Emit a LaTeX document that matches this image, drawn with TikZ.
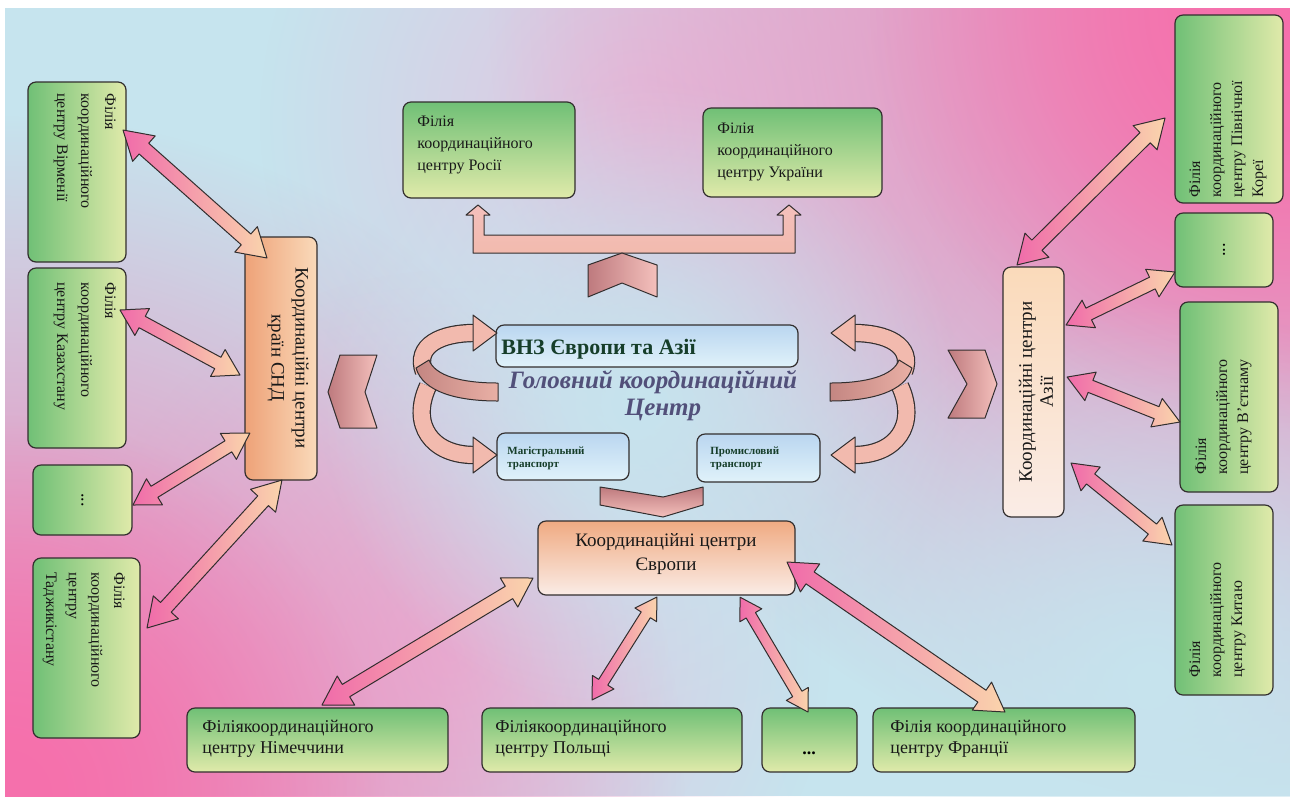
\documentclass[tikz,border=0pt]{standalone}
\usepackage{fontspec}
\setmainfont{Liberation Serif}
\usetikzlibrary{fadings}

\definecolor{bgblue}{RGB}{198,228,238}
\definecolor{bgpink}{RGB}{246,112,172}
\definecolor{bglav}{RGB}{226,196,224}
\definecolor{gdark}{RGB}{112,192,118}
\definecolor{glight}{RGB}{224,234,170}
\definecolor{hubA}{RGB}{238,162,120}
\definecolor{hubB}{RGB}{250,218,186}
\definecolor{hubC}{RGB}{250,236,230}
\definecolor{lbA}{RGB}{186,214,240}
\definecolor{lbB}{RGB}{224,242,250}
\definecolor{arrPink}{RGB}{240,108,170}
\definecolor{arrPeach}{RGB}{250,212,172}
\definecolor{chevA}{RGB}{190,122,126}
\definecolor{chevB}{RGB}{244,192,188}
\definecolor{salmon}{RGB}{242,186,174}
\definecolor{salmonD}{RGB}{196,134,130}
\definecolor{edge}{RGB}{50,46,46}
\definecolor{vnzgreen}{RGB}{22,62,42}
\definecolor{headc}{RGB}{82,80,122}

\tikzfading[name=blobfade, inner color=transparent!0, outer color=transparent!100]

\makeatletter
\newcommand\fatarrow[3][1]{%
  \pgfmathanglebetweenpoints{\pgfpointanchor{#2}{center}}{\pgfpointanchor{#3}{center}}%
  \let\fa@ang\pgfmathresult
  \pgfpointdiff{\pgfpointanchor{#2}{center}}{\pgfpointanchor{#3}{center}}%
  \pgfgetlastxy{\fa@dx}{\fa@dy}%
  \pgfmathveclen{\fa@dx}{\fa@dy}%
  \let\fa@len\pgfmathresult
  \pgfmathsetmacro\fa@hl{14*#1}%
  \pgfmathsetmacro\fa@hw{8.5*#1}%
  \pgfmathsetmacro\fa@sw{3.6*#1}%
  \pgfmathsetmacro\fa@e{\fa@len-\fa@hl}%
  \begin{scope}[shift={(#2)}, rotate=\fa@ang]
    \shade[arrowline, left color=arrPink, right color=arrPeach]
      (0pt,0pt) -- (\fa@hl pt,\fa@hw pt) -- (\fa@hl pt,\fa@sw pt) -- (\fa@e pt,\fa@sw pt)
      -- (\fa@e pt,\fa@hw pt) -- (\fa@len pt,0pt) -- (\fa@e pt,-\fa@hw pt) -- (\fa@e pt,-\fa@sw pt)
      -- (\fa@hl pt,-\fa@sw pt) -- (\fa@hl pt,-\fa@hw pt) -- cycle;
  \end{scope}}
\makeatother

\begin{document}
\begin{tikzpicture}[x=0.5pt,y=-0.5pt,
  box/.style={draw=edge, line width=0.6pt, rounded corners=4pt, inner sep=0pt},
  gbox/.style={box, top color=gdark, bottom color=glight},
  gboxv/.style={box, left color=gdark, right color=glight},
  lbox/.style={box, top color=lbA, bottom color=lbB},
  txt/.style={inner sep=0pt, align=left, text=black!90, font=\fontsize{8}{11}\selectfont},
  vtxtL/.style={inner sep=0pt, align=left, text=black!90, rotate=-90, anchor=north west, font=\fontsize{8}{12}\selectfont},
  vtxtR/.style={inner sep=0pt, align=left, text=black!90, rotate=90, anchor=north west, font=\fontsize{8}{10.5}\selectfont},
  btxt/.style={inner sep=0pt, align=left, text=black!90, anchor=north west, font=\fontsize{9}{10.5}\selectfont},
  hubtxt/.style={inner sep=0pt, align=center, text=black!90, font=\fontsize{9.5}{12}\selectfont},
  arrowline/.style={draw=edge, line width=0.5pt, line join=round},
  chev/.style={draw=edge, line width=0.5pt, line join=round, left color=chevA, right color=chevB},
  loopout/.style={draw=edge, line width=9.2pt},
  loopin/.style={line width=8pt}
]
\useasboundingbox (0,0) rectangle (1290,800);
\fill[white] (0,0) rectangle (1290,800);
\begin{scope}
  \clip (5,8) rectangle (1290,796);
  \fill[bgblue] (5,8) rectangle (1290,796);
  \fill[bglav, path fading=blobfade] (640,120) circle (380);
  \fill[bglav, path fading=blobfade] (450,650) circle (380);
  \fill[bgpink, path fading=blobfade] (1290,8) circle (800);
  \fill[bgpink, path fading=blobfade] (1290,8) circle (420);
  \fill[bgpink, path fading=blobfade] (5,796) circle (680);
  \fill[bgpink, path fading=blobfade] (5,796) circle (380);
  \fill[bgblue, path fading=blobfade] (640,400) circle (320);
  \fill[bgblue, path fading=blobfade] (1150,680) circle (380);
\end{scope}

% ---------- left (CIS) column ----------
\node[gboxv, minimum width=49pt, minimum height=90pt] (arm) at (77,172) {};
\node[vtxtL] (armt) at (116,93) {Філія\\координаційного\\центру Вірменії};
\node[gboxv, minimum width=49pt, minimum height=90pt] (kaz) at (77,358) {};
\node[vtxtL] (kazt) at (116,282) {Філія\\координаційного\\центру Казахстану};
\node[gboxv, minimum width=49.5pt, minimum height=35pt] (ldots) at (82.5,500) {};
\node[inner sep=0pt, rotate=-90, font=\fontsize{9}{10}\selectfont] (ldotst) at (ldots) {...};
\node[gboxv, minimum width=53.5pt, minimum height=90pt] (taj) at (86.5,648) {};
\node[vtxtL, font=\fontsize{8}{11.3}\selectfont] (tajt) at (125,572) {Філія\\координаційного\\центру\\Таджикістану};
\node[box, left color=hubA, right color=hubB, minimum width=36pt, minimum height=121.5pt] (cis) at (281,358.5) {};
\node[hubtxt, rotate=-90] (cist) at (288,358) {Координаційні центри\\країн СНД};

% ---------- right (Asia) column ----------
\node[gboxv, minimum width=54pt, minimum height=94pt] (nk) at (1229,109) {};
\node[vtxtR] (nkt) at (1189,198) {Філія\\координаційного\\центру Північної\\Кореї};
\node[gboxv, minimum width=49pt, minimum height=37pt] (rdots) at (1224,250) {};
\node[inner sep=0pt, rotate=90, font=\fontsize{9}{10}\selectfont] (rdotst) at (rdots) {...};
\node[gboxv, minimum width=49pt, minimum height=95pt] (vie) at (1229,397) {};
\node[vtxtR] (viet) at (1195,475) {Філія\\координаційного\\центру В'єтнаму};
\node[gboxv, minimum width=49pt, minimum height=95pt] (chn) at (1224,600) {};
\node[vtxtR] (chnt) at (1189,678) {Філія\\координаційного\\центру Китаю};
\node[box, top color=hubB, bottom color=hubC, minimum width=30.5pt, minimum height=125pt] (asia) at (1033.5,392) {};
\node[hubtxt, rotate=90, font=\fontsize{9.5}{10.5}\selectfont] (asiat) at (1036,392) {Координаційні центри\\Азії};

% ---------- top ----------
\node[gbox, minimum width=86pt, minimum height=48pt] (rus) at (489,150) {};
\node[txt, anchor=north west] (rust) at (417,115) {Філія\\координаційного\\центру Росії};
\node[gbox, minimum width=89.5pt, minimum height=44.5pt] (ukr) at (792.5,152.5) {};
\node[txt, anchor=north west] (ukrt) at (717,122) {Філія\\координаційного\\центру України};

% bar with two small up arrows
\coordinate (barL) at (473,253);
\coordinate (barR) at (795,253);
\shade[arrowline, top color=chevB, bottom color=salmon]
  (barL) -- (473,215) -- (466,215) -- (478,205) -- (490,215) -- (484,215) -- (484,235)
  -- (783,235) -- (783,215) -- (777,215) -- (789,205) -- (801,215) -- (795,215) -- (barR) -- cycle;
% up chevron
\shade[chev] (622,253) -- (657,265) -- (657,297) -- (622,283) -- (588,297) -- (588,265) -- cycle;

% ---------- centre ----------
\node[lbox, minimum width=151pt, minimum height=21pt] (vnz) at (647,346) {};
\node[inner sep=0pt, anchor=base west, text=vnzgreen, font=\fontsize{11}{13}\bfseries\selectfont] (vnzt) at (501,354) {ВНЗ Європи та Азії};
\node[inner sep=0pt, anchor=north, align=center, text=headc, font=\fontsize{12.5}{13.5}\bfseries\itshape\selectfont] (head) at (653,370) {Головний координаційний\\\hspace*{10pt}Центр};
\node[lbox, minimum width=66pt, minimum height=23.5pt] (mag) at (563,456.5) {};
\node[inner sep=0pt, anchor=north west, align=left, text=vnzgreen, font=\fontsize{5.5}{6.5}\bfseries\selectfont] (magt) at (507,446) {Магістральний\\транспорт};
\node[lbox, minimum width=61.5pt, minimum height=24pt] (prom) at (758.5,458) {};
\node[inner sep=0pt, anchor=north west, align=left, text=vnzgreen, font=\fontsize{5.5}{6.5}\bfseries\selectfont] (promt) at (710,447) {Промисловий\\транспорт};

% side chevrons
\shade[chev] (328,392) -- (340,355) -- (377,355) -- (365,392) -- (377,428) -- (340,428) -- cycle;
\shade[chev] (948,350) -- (985,350) -- (997,384) -- (985,418) -- (948,418) -- (967,384) -- cycle;
% down chevron
\shade[chev, top color=chevA, bottom color=chevB] (600,487) -- (663,497) -- (703,487) -- (703,505) -- (663,517) -- (600,505) -- cycle;

% curved (twisted) arrows, left set, and its mirror on the right
\foreach \mir/\sh in {1/0,-1/1328}{
\begin{scope}[shift={(\sh,0)}, xscale=\mir]
  \draw[loopout] (428,386) .. controls (410,425) and (432,455) .. (474,455);
  \draw[loopin, salmon] (428,386) .. controls (410,425) and (432,455) .. (474,455);
  \draw[arrowline, fill=salmon] (473,437) -- (497,455) -- (473,473) -- cycle;
  \draw[loopout] (424,372) .. controls (414,345) and (442,333) .. (474,333);
  \draw[loopin, salmon] (424,372) .. controls (414,345) and (442,333) .. (474,333);
  \draw[arrowline, fill=salmon] (473,315) -- (497,333) -- (473,351) -- cycle;
  \shade[arrowline, left color=salmonD, right color=salmon!80!salmonD]
    (498,383) .. controls (462,383) and (435,376) .. (429,360)
    -- (416,368) .. controls (423,392) and (457,401) .. (498,401) -- cycle;
\end{scope}}

% ---------- Europe ----------
\node[box, top color=hubA!85!hubB, bottom color=hubC, minimum width=128.5pt, minimum height=37pt] (eur) at (666.5,558) {};
\node[hubtxt, anchor=north] (eurt) at (666,533) {Координаційні центри\\Європи};

\node[gbox, minimum width=130.5pt, minimum height=32pt] (ger) at (317.5,740) {};
\node[btxt] (gert) at (202,720) {Філіякоординаційного\\центру Німеччини};
\node[gbox, minimum width=130pt, minimum height=32pt] (pol) at (612,740) {};
\node[btxt] (polt) at (495,720) {Філіякоординаційного\\центру Польщі};
\node[gbox, minimum width=47.5pt, minimum height=32pt] (edots) at (809.5,740) {};
\node[inner sep=0pt, anchor=base, font=\fontsize{9}{10}\bfseries\selectfont] (edotst) at (809,754) {...};
\node[gbox, minimum width=131pt, minimum height=32pt] (fra) at (1004,740) {};
\node[btxt] (frat) at (890,720) {Філія координаційного\\центру Франції};

% ---------- arrow end points ----------
\coordinate (a1b) at (123,130);  \coordinate (a1h) at (267,258);
\coordinate (a2b) at (120,310);  \coordinate (a2h) at (240,375);
\coordinate (a3b) at (133,505);  \coordinate (a3h) at (250,433);
\coordinate (a4b) at (147,628);  \coordinate (a4h) at (282,480);
\coordinate (b1b) at (1165,118); \coordinate (b1h) at (1017,265);
\coordinate (b2b) at (1175,272); \coordinate (b2h) at (1066,325);
\coordinate (b3b) at (1180,422); \coordinate (b3h) at (1067,377);
\coordinate (b4b) at (1172,545); \coordinate (b4h) at (1071,463);
\coordinate (c1b) at (322,705);  \coordinate (c1h) at (533,578);
\coordinate (c2b) at (592,700);  \coordinate (c2h) at (657,597);
\coordinate (c3b) at (808,712);  \coordinate (c3h) at (740,597);
\coordinate (c4b) at (1005,712); \coordinate (c4h) at (787,562);

\fatarrow{a1b}{a1h}
\fatarrow[0.9]{a2b}{a2h}
\fatarrow[0.9]{a3b}{a3h}
\fatarrow{a4b}{a4h}
\fatarrow{b1b}{b1h}
\fatarrow[0.9]{b2b}{b2h}
\fatarrow[0.9]{b3b}{b3h}
\fatarrow[0.9]{b4b}{b4h}
\fatarrow{c1b}{c1h}
\fatarrow[0.75]{c2b}{c2h}
\fatarrow[0.75]{c3b}{c3h}
\fatarrow{c4b}{c4h}
\end{tikzpicture}
\end{document}
